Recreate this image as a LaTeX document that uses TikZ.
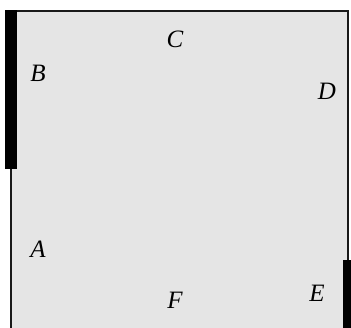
\documentclass[tikz,border=0pt]{standalone}
\usepackage{fontspec}
\setmainfont{Liberation Serif}
\begin{document}
\begin{tikzpicture}[x=1pt,y=-1pt,
  lbl/.style={font=\fontsize{25}{27}\selectfont\itshape, inner sep=0pt, anchor=center},
  wall/.style={fill=black, draw=none}]
\useasboundingbox (0,0) rectangle (351,327);
\clip (0,0) rectangle (351,327);
\fill[white] (0,0) rectangle (351,327);
\draw[fill=gray!20, draw=black!90, line width=2pt] (11,10.5) rectangle (348,340);
\fill[wall] (5,10) rectangle (17,169);
\fill[wall] (343,260) rectangle (355,340);
\node[lbl] (C) at (175,39) {C};
\node[lbl] (B) at (38,73) {B};
\node[lbl] (D) at (327,91) {D};
\node[lbl] (A) at (38,249) {A};
\node[lbl] (F) at (175,300) {F};
\node[lbl] (E) at (317,293) {E};
\end{tikzpicture}
\end{document}
